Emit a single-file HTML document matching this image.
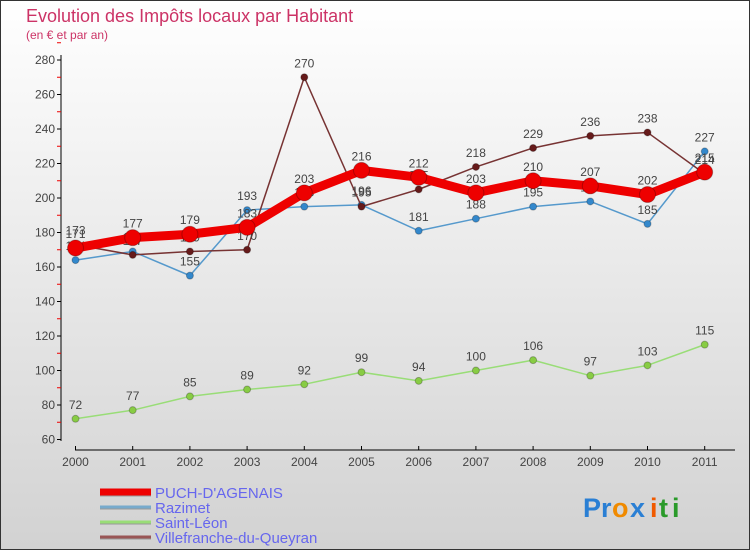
<!DOCTYPE html>
<html><head><meta charset="utf-8"><style>
body{margin:0;}
#wrap{width:750px;height:550px;position:relative;overflow:hidden;}
svg text{font-family:"Liberation Sans",sans-serif;}
</style></head><body>
<div id="wrap">
<svg id="chart" width="750" height="550" xmlns="http://www.w3.org/2000/svg">
<defs><linearGradient id="bg" x1="0" y1="0" x2="0" y2="1"><stop offset="0" stop-color="#ffffff"/><stop offset="1" stop-color="#d2d2d2"/></linearGradient></defs>
<rect x="0.5" y="0.5" width="749" height="549" fill="url(#bg)" stroke="#333"/>
<text x="26" y="22" font-size="18" fill="#cc3366">Evolution des Impôts locaux par Habitant</text>
<text x="26" y="39" font-size="12" fill="#cc3366">(en € et par an)</text>
<g id="axes"></g><g id="series"></g><g id="legend"></g>
<g font-size="27" font-weight="bold">
<text x="583" y="517" fill="#2a7fd4">P</text><text x="601" y="517" fill="#2a7fd4">r</text><text x="612" y="517" fill="#f08a00">o</text><text x="630" y="517" fill="#2a7fd4">x</text><text x="650" y="517" fill="#f05a00">i</text><text x="659" y="517" fill="#2a9a2a">t</text><text x="672" y="517" fill="#2a9a2a">i</text>
</g>
</svg></div>
<script>
const years=["2000","2001","2002","2003","2004","2005","2006","2007","2008","2009","2010","2011"];
const yTicks=[60,80,100,120,140,160,180,200,220,240,260,280];
const puch=[171,177,179,183,203,216,212,203,210,207,202,215];
const razimet=[164,169,155,193,195,196,181,188,195,198,185,227];
const saintLeon=[72,77,85,89,92,99,94,100,106,97,103,115];
const villefranche=[173,167,169,170,270,195,205,218,229,236,238,214];
const NS="http://www.w3.org/2000/svg";
function X(i){return 75.5+i*57.2;}
function Y(v){return 439.5-(v-60)*34.5/20;}
function mk(t,a,p){const e=document.createElementNS(NS,t);for(const k in a)e.setAttribute(k,a[k]);p.appendChild(e);return e;}
const ax=document.getElementById('axes');
let l=mk('line',{x1:61,y1:55,x2:61,y2:441,stroke:'#000'},ax);

l=mk('line',{x1:75,y1:450,x2:735,y2:450,stroke:'#000'},ax);

yTicks.forEach(v=>{
 mk('line',{x1:57,y1:Y(v),x2:61,y2:Y(v),stroke:'#000'},ax);
 mk('line',{x1:57,y1:Y(v+10),x2:61,y2:Y(v+10),stroke:'#e00'},ax);
 const t=mk('text',{x:55,y:Y(v)+4,'font-size':12,fill:'#444','text-anchor':'end'},ax);t.textContent=v;
 
});
years.forEach((y,i)=>{
 mk('line',{x1:X(i),y1:446,x2:X(i),y2:450,stroke:'#000'},ax);
 const t=mk('text',{x:X(i),y:466,'font-size':12,fill:'#444','text-anchor':'middle'},ax);t.textContent=y;
 
});
const sg=document.getElementById('series');
function draw(vals,color,w,r,dot,name){
 const g=mk('g',{},sg);
 
 const pl=mk('polyline',{points:vals.map((v,i)=>X(i)+','+Y(v)).join(' '),fill:'none',stroke:color,'stroke-width':w,'stroke-linejoin':'round'},g);
 
 vals.forEach((v,i)=>{
  const c=mk('circle',{cx:X(i),cy:Y(v),r:r,fill:dot,stroke:'rgba(0,0,0,0.25)'},g);
  
  const t=mk('text',{x:X(i),y:Y(v)-10,'font-size':12,fill:'#444','text-anchor':'middle'},g);t.textContent=v;
  
 });
}
draw(saintLeon,'#99dd77',1.5,3.5,'#88cc44','saint-leon');
draw(razimet,'#5599cc',1.5,3.5,'#3388cc','razimet');
draw(villefranche,'#773333',1.5,3.5,'#661a1a','villefranche');
draw(puch,'#ee0000',9,8,'#ee0000','puch');
const lg=document.getElementById('legend');
const items=[["PUCH-D'AGENAIS",'#ee0000',7],["Razimet",'#77aacc',3],["Saint-Léon",'#99dd77',3],["Villefranche-du-Queyran",'#995555',3]];
items.forEach((it,k)=>{
 const y=492+k*15;
 const g=mk('g',{},lg);
 mk('line',{x1:100,y1:y+1,x2:151,y2:y+1,stroke:'#999','stroke-width':it[2]},g);
 mk('line',{x1:100,y1:y,x2:151,y2:y,stroke:it[1],'stroke-width':it[2]},g);
 const t=mk('text',{x:155,y:y+6,'font-size':15,fill:'#6666ee'},g);t.textContent=it[0];
});
</script>
</body></html>
